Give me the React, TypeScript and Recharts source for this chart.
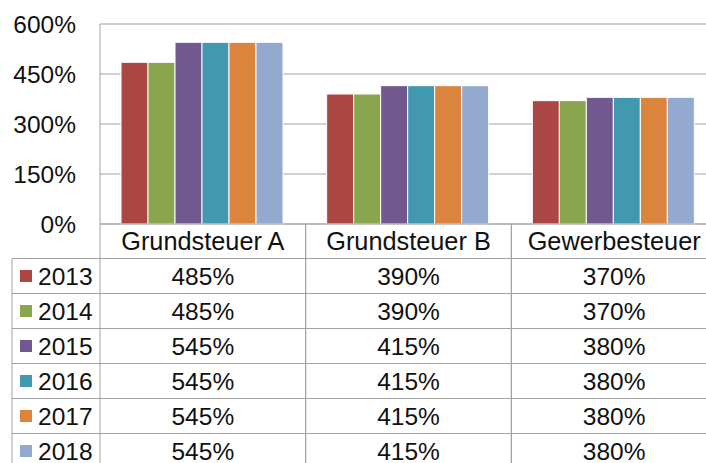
import { Bar, BarChart, CartesianGrid, XAxis, YAxis } from 'recharts';

// Hebesätze der Gemeinde, 2013-2018
const CATEGORIES = ['Grundsteuer A', 'Grundsteuer B', 'Gewerbesteuer'];
const YEARS = ['2013', '2014', '2015', '2016', '2017', '2018'];
const RATES_2013 = [485, 390, 370];
const RATES_2014 = [485, 390, 370];
const RATES_2015 = [545, 415, 380];
const RATES_2016 = [545, 415, 380];
const RATES_2017 = [545, 415, 380];
const RATES_2018 = [545, 415, 380];
const SERIES = [RATES_2013, RATES_2014, RATES_2015, RATES_2016, RATES_2017, RATES_2018];
const COLORS = ['#AA4643', '#89A54E', '#71588F', '#4198AF', '#DB843D', '#93A9CF'];
const Y_TICKS = [0, 150, 300, 450, 600];

const rows = CATEGORIES.map((name, i) => {
    const row: Record<string, string | number> = { name };
    YEARS.forEach((year, s) => {
        row[year] = SERIES[s][i];
    });
    return row;
});

const CHART_W = 717;
const CHART_H = 463;
const LEFT = 100;
const TOP = 24;
const AXIS_H = 239;
const PLOT_W = CHART_W - LEFT;
const HEADER_H = 34.5;
const ROW_H = 35;
const LEGEND_LEFT = 12;
const GRID = '#a3a3a3';
const INK = '#111';
const FONT = '"Liberation Sans", Arial, sans-serif';
const FS = 24.5;
const HEADER_FS = 25.3;

function TableColumn(props: any) {
    const { x, y, payload } = props;
    const i = payload.index;
    const band = PLOT_W / CATEGORIES.length;
    const left = x - band / 2;
    const right = x + band / 2;
    const bottom = CHART_H + 20;
    return (
        <g fontFamily={FONT} fontSize={FS} fill={INK}>
            <line x1={left} y1={y} x2={left} y2={bottom} stroke={GRID} />
            <line x1={right} y1={y} x2={right} y2={bottom} stroke={GRID} />
            <text
                x={x}
                y={y + HEADER_H / 2 + HEADER_FS * 0.36}
                textAnchor="middle"
                fontSize={HEADER_FS}
                fill={INK}
            >
                {payload.value}
            </text>
            {YEARS.map((year, s) => {
                const top = y + HEADER_H + s * ROW_H;
                const mid = top + ROW_H / 2;
                return (
                    <g key={year}>
                        <line x1={i === 0 ? LEGEND_LEFT : left} y1={top} x2={right} y2={top} stroke={GRID} />
                        <text x={x} y={mid + FS * 0.36} textAnchor="middle" fill={INK}>
                            {SERIES[s][i]}%
                        </text>
                        {i === 0 ? (
                            <g>
                                <rect x={LEGEND_LEFT + 8} y={mid - 6} width={12} height={12} fill={COLORS[s]} />
                                <text x={LEGEND_LEFT + 26} y={mid + FS * 0.36} textAnchor="start" fill={INK}>
                                    {year}
                                </text>
                            </g>
                        ) : null}
                    </g>
                );
            })}
            {i === 0 ? (
                <line x1={LEGEND_LEFT} y1={y + HEADER_H} x2={LEGEND_LEFT} y2={bottom} stroke={GRID} />
            ) : null}
        </g>
    );
}

export default function App() {
    return (
        <div
            style={{
                position: 'absolute',
                left: 0,
                top: 0,
                width: 706,
                height: 463,
                overflow: 'hidden',
                background: '#fff',
            }}
        >
            <BarChart
                width={CHART_W}
                height={CHART_H}
                data={rows}
                margin={{ top: TOP, right: 0, left: 0, bottom: 0 }}
                barCategoryGap={21}
                barGap={0}
            >
                <CartesianGrid vertical={false} stroke={GRID} strokeWidth={1} />
                <YAxis
                    width={LEFT}
                    domain={[0, 600]}
                    ticks={Y_TICKS}
                    tickFormatter={(v) => `${v}%`}
                    tickLine={false}
                    tickSize={0}
                    tickMargin={24}
                    axisLine={{ stroke: GRID }}
                    tick={{ fontSize: FS, fill: INK, fontFamily: FONT }}
                    interval={0}
                />
                <XAxis
                    dataKey="name"
                    height={AXIS_H}
                    tickLine={false}
                    tickSize={0}
                    tickMargin={0}
                    axisLine={{ stroke: GRID }}
                    interval={0}
                    tick={<TableColumn />}
                />
                {YEARS.map((year, s) => (
                    <Bar
                        key={year}
                        dataKey={year}
                        fill={COLORS[s]}
                        stroke="#fff"
                        strokeWidth={1}
                        isAnimationActive={false}
                    />
                ))}
            </BarChart>
        </div>
    );
}
